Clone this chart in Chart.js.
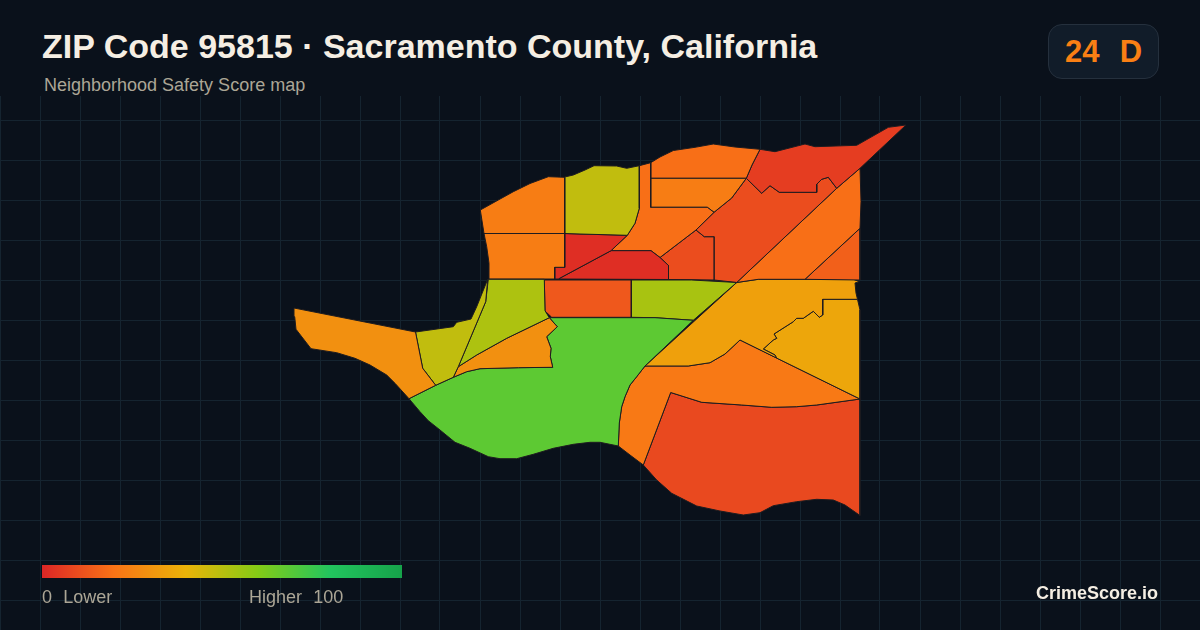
<!DOCTYPE html>
<html>
<head>
<meta charset="utf-8">
<title>ZIP Code 95815 map</title>
<script src="https://cdn.jsdelivr.net/npm/chart.js@4"></script>
<style>
  html, body { margin: 0; padding: 0; background: #0a111b; }
  body { width: 1200px; height: 630px; position: relative; overflow: hidden; font-family: "Liberation Sans", Arial, sans-serif; }
  #map { position: absolute; left: 0; top: 96px; }
  .txt { position: absolute; white-space: pre; line-height: 1; }
  #title { left: 42px; top: 29px; font-size: 34px; font-weight: bold; color: #f5eee3; }
  #sub { left: 44px; top: 76px; font-size: 18px; color: #aca696; }
  #badge { position: absolute; left: 1048px; top: 24px; width: 109px; height: 53px; border: 1px solid #25303d; border-radius: 14px; background: #111c29; }
  #grade { left: 1065px; top: 36px; font-size: 31px; font-weight: bold; word-spacing: 1.5px; color: #f97f14; }
  #ramp { position: absolute; left: 42px; top: 565px; width: 360px; height: 13px; }
  .leg { top: 588px; font-size: 18px; word-spacing: 0.6px; color: #aca696; }
  #brand { left: 1036px; top: 584px; font-size: 18px; font-weight: bold; color: #f5eee3; }
</style>
</head>
<body>
<canvas id="map" width="1200" height="534"></canvas>
<div class="txt" id="title">ZIP Code 95815 · Sacramento County, California</div>
<div class="txt" id="sub">Neighborhood Safety Score map</div>
<div id="badge"></div>
<div class="txt" id="grade">24  D</div>
<div id="ramp"></div>
<div class="txt leg" style="left:42px">0  Lower</div>
<div class="txt leg" style="left:249px">Higher  100</div>
<div class="txt" id="brand">CrimeScore.io</div>
<script>
// score ramp, 0 to 100
var rampStops = [0, 20, 40, 60, 80, 100];
var rampColors = [[220,38,38], [249,115,22], [234,179,8], [132,204,22], [34,197,94], [22,163,74]];

// neighborhood outlines, in map units
var westOrange = [[294,308],[415.5,332],[422.7,368.3],[435.7,385.3],[409,398.7],[395,383.3],[386.7,375],[370,365],[355,358.3],[336.7,352.7],[311,348.7],[296,329.3],[294.7,316.7]];
var westOlive = [[415.5,332],[453.3,326.7],[456.7,322.3],[471,319],[476.7,306.7],[487.7,279.3],[485.7,301.7],[458.3,366.7],[453.3,377.3],[435.7,385.3],[422.7,368.3]];
var lowerLime = [[488.3,279.3],[544.3,279.3],[545,310.7],[549.3,317.7],[506.7,338.3],[476.7,355],[458.3,366.7],[485.7,301.7]];
var wedgeOrange = [[549.3,317.7],[557.3,326.7],[546.7,336.7],[551,348.3],[550.3,356.7],[552.7,367.3],[518.3,367.7],[480,368.7],[466.7,371.7],[453.3,377.3],[458.3,366.7],[476.7,355],[506.7,338.3]];
var bigGreen = [[409,398.7],[435.7,385.3],[453.3,377.3],[466.7,371.7],[480,368.7],[518.3,367.7],[552.7,367.3],[550.3,356.7],[551,348.3],[546.7,336.7],[557.3,326.7],[549.3,317.7],[655,317.7],[693.3,320.3],[645,366],[636.7,376.7],[630,385],[625,396.7],[621.7,406.7],[619.3,423],[618.3,446],[600,442.3],[590,442.3],[573.3,444.3],[553.3,448.3],[533.3,454.3],[516.7,458.7],[500,458.7],[488.3,456.7],[470,448.3],[455,442.3],[440,430],[428.3,420.7],[420,411.7]];
var midRow = [[544.3,280],[631.3,280],[631.3,317.3],[551.7,317.3],[545,311]];
var midLime = [[631.5,280],[691.7,280],[736.7,282.5],[693.3,320.3],[655,317.7],[631.5,317.3]];
var nwOrange = [[480.3,210],[498.3,200],[513.3,191.7],[530,183.5],[548.3,176.7],[564.7,177.3],[564.7,233.5],[484,233.5]];
var nwOrange2 = [[484,233.5],[564.7,233.5],[564.7,267.3],[554.7,267.3],[554.7,279],[489,279],[489,263.3],[486.7,246.7]];
var northOlive = [[564.7,177],[573.3,175],[585,170],[594,165.7],[616.7,166],[626.7,168.3],[639.3,165.7],[639.3,208.3],[635,223.3],[627.3,235.3],[580,234],[564.7,233.5]];
var redUpper = [[564.7,233.5],[580,234],[627.3,235.3],[611,250.7],[558.3,279],[554.7,279],[554.7,267.3],[564.7,267.3]];
var redLower = [[611,250.7],[651,250.7],[660,257.5],[668.5,265.5],[668.5,279.5],[558.3,279]];
var centerOrange = [[639.3,165.7],[650.7,162.7],[650.7,207.3],[707.3,207.3],[714,212.3],[696,230],[660,257.5],[651,250.7],[611,250.7],[627.3,235.3],[635,223.3],[639.3,208.3]];
var centerOrange2 = [[650.7,178.3],[746.3,178.3],[731.7,198],[714,212.3],[707.3,207.3],[650.7,207.3]];
var topOrange = [[650.7,162.7],[660,157],[673.3,150.5],[695,147.3],[713.3,144],[735,147],[760,149.3],[752,165],[746.3,178.3],[650.7,178.3]];
var neRed = [[760,149.3],[775,151.7],[805,144],[815,146.7],[856.7,145.3],[888.3,127.3],[906,125],[860,168.3],[836.7,188.3],[828.3,177.3],[821.7,179.3],[816.7,184.3],[816.7,192.3],[779.3,192.3],[770,185.7],[761.7,193.3],[746.3,178.3],[752,165]];
var eastRed = [[746.3,178.3],[761.7,193.3],[770,185.7],[779.3,192.3],[816.7,192.3],[816.7,184.3],[821.7,179.3],[828.3,177.3],[836.7,188.3],[736.7,282.5],[714.3,280],[714.3,236.7],[704.3,236.7],[696,230],[714,212.3],[731.7,198]];
var smallRed = [[696,230],[704.3,236.7],[714.3,236.7],[714.3,280],[668.5,279.5],[668.5,265.5],[660,257.5]];
var diagOrange = [[860,168.3],[861,201.7],[860,228.3],[805,279.3],[758.3,279.3],[736.7,282.5],[836.7,188.3]];
var cornerOrange = [[860,228.3],[860,280],[805,279.3]];
var amberNorth = [[736.7,282.5],[758.3,279.3],[805,279.3],[853.3,279.3],[859.3,281.7],[855,283],[856,293],[857.5,299.3],[822.7,299.3],[822.7,315],[819.3,317.3],[813.3,311.3],[803.3,318.3],[796.7,318.3],[793.3,321.7],[774,334],[776.7,338.3],[773.3,340],[763.3,349],[775,355],[776.5,358],[740,340],[725,354],[710,362.7],[688.3,366],[645,366]];
var amberEast = [[822.7,299.3],[857.5,299.3],[860,310],[860,399],[776.5,358],[775,355],[763.3,349],[773.3,340],[776.7,338.3],[774,334],[793.3,321.7],[796.7,318.3],[803.3,318.3],[813.3,311.3],[819.3,317.3],[822.7,315]];
var southOrange = [[645,366],[688.3,366],[710,362.7],[725,354],[740,340],[860,399],[816.7,405],[796.7,406.7],[771.7,407.3],[741.7,405],[701.7,402.3],[670.7,392.5],[643.3,465],[630,455],[618.3,446],[619.3,423],[621.7,406.7],[625,396.7],[630,385],[636.7,376.7]];
var southRed = [[670.7,392.5],[701.7,402.3],[741.7,405],[771.7,407.3],[796.7,406.7],[816.7,405],[860,399],[860,485],[860,515.5],[845,505],[833.3,500],[816.7,499.3],[796.7,501.7],[773.3,505.7],[760,512.7],[743.3,515],[720,511],[696.7,506],[671.7,493.3],[656.7,480],[643.3,465]];

var outlines = [westOrange, westOlive, lowerLime, wedgeOrange, bigGreen, midRow, midLime, nwOrange, nwOrange2, northOlive, redUpper, redLower, centerOrange, centerOrange2, topOrange, neRed, eastRed, smallRed, diagOrange, cornerOrange, amberNorth, amberEast, southOrange, southRed];
var scores = [29, 48, 52, 29, 68, 13, 53, 23, 23, 48, 2, 2, 19, 23, 19, 6, 10, 10, 19, 15, 34, 36, 22, 9];

var gridStep = 40;

function scoreColor(s) {
  var i = 0;
  while (i < rampStops.length - 2 && s > rampStops[i + 1]) i++;
  var t = (s - rampStops[i]) / (rampStops[i + 1] - rampStops[i]);
  var a = rampColors[i], b = rampColors[i + 1];
  return 'rgb(' + Math.round(a[0] + (b[0] - a[0]) * t) + ',' + Math.round(a[1] + (b[1] - a[1]) * t) + ',' + Math.round(a[2] + (b[2] - a[2]) * t) + ')';
}

document.getElementById('ramp').style.background = 'linear-gradient(to right,' + rampColors.map(function (c) {
  return 'rgb(' + c.join(',') + ')';
}).join(',') + ')';

var datasets = outlines.map(function (shape, i) {
  // repeat the first vertex so the outline closes
  var pts = shape.concat([shape[0]]).map(function (p) { return { x: p[0], y: p[1] }; });
  return {
    label: 'Area ' + (i + 1),
    data: pts,
    showLine: true,
    fill: 'shape',
    tension: 0,
    backgroundColor: scoreColor(scores[i]),
    borderColor: '#1e1c20',
    borderWidth: 1,
    borderJoinStyle: 'round',
    pointRadius: 0
  };
});

new Chart(document.getElementById('map').getContext('2d'), {
  type: 'scatter',
  data: { datasets: datasets },
  options: {
    responsive: false,
    animation: false,
    devicePixelRatio: 1,
    layout: { padding: 0 },
    plugins: { legend: { display: false }, tooltip: { enabled: false } },
    scales: {
      x: {
        min: 0, max: 1200,
        border: { display: false },
        ticks: { display: false, stepSize: gridStep, includeBounds: false },
        grid: { color: '#152430', lineWidth: 1, drawTicks: false, tickLength: 0 }
      },
      y: {
        min: 96, max: 630, reverse: true,
        border: { display: false },
        ticks: { display: false, stepSize: gridStep, includeBounds: false },
        grid: { color: '#152430', lineWidth: 1, drawTicks: false, tickLength: 0 }
      }
    }
  }
});
</script>
</body>
</html>
